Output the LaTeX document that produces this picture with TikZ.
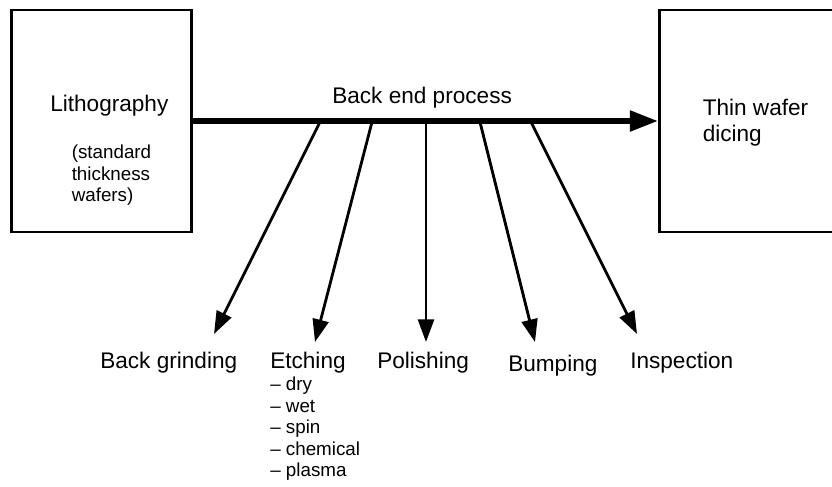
\documentclass[tikz,border=0pt]{standalone}
\usepackage{fontspec}
\setmainfont{Liberation Sans}
\usetikzlibrary{arrows.meta}
\begin{document}
\begin{tikzpicture}[x=0.75pt,y=-0.75pt,
  box/.style={draw, line width=2.1pt, minimum height=166.5pt, inner sep=0pt},
  big/.style={font=\fontsize{16.95}{19.5}\selectfont, inner sep=0pt, align=left},
  small/.style={font=\fontsize{14.1}{16.1}\selectfont, inner sep=0pt, align=left},
  mainarrow/.style={line width=4pt, -{Triangle[length=21pt,width=15pt]}},
  branch/.style={line width=2.1pt, -{Triangle[length=17pt,width=12pt]}}]
\useasboundingbox (0,0) rectangle (832,486);
% boxes
\node[box, minimum width=135pt] (litho) at (101.8,121) {};
\node[box, minimum width=139.5pt] (dicing) at (752.3,121) {};
% box texts (base anchor = baseline of the last line)
\node[big, anchor=base west] (lithotxt) at (50,111) {Lithography};
\node[small, anchor=base west] (std) at (71.5,201.5) {(standard\\thickness\\wafers)};
\node[big, anchor=base west] (dicetxt) at (702.5,141) {Thin wafer\\dicing};
\node[big, anchor=base west] (bep) at (332,103) {Back end process};
% branch labels
\node[big, anchor=base west] (grind) at (100,368) {Back grinding};
\node[big, anchor=base west] (etch) at (270,368) {Etching};
\node[small, anchor=base west] (etchlist) at (270,476.5) {– dry\\– wet\\– spin\\– chemical\\– plasma};
\node[big, anchor=base west] (polish) at (377,368) {Polishing};
\node[big, anchor=base west] (bump) at (508,371) {Bumping};
\node[big, anchor=base west] (insp) at (630,368) {Inspection};
% branch points and tips
\coordinate (s1) at (320,122);
\coordinate (s2) at (372,122);
\coordinate (s3) at (426,122);
\coordinate (s4) at (480,122);
\coordinate (s5) at (531,122);
\coordinate (t1) at (214,334);
\coordinate (t2) at (315,342);
\coordinate (t3) at (426,342);
\coordinate (t4) at (535,342);
\coordinate (t5) at (637,334);
\draw[branch] (s1) -- (t1);
\draw[branch] (s2) -- (t2);
\draw[branch] (s3) -- (t3);
\draw[branch] (s4) -- (t4);
\draw[branch] (s5) -- (t5);
% main arrow
\draw[mainarrow] (litho.east) -- (dicing.west);
\end{tikzpicture}
\end{document}
